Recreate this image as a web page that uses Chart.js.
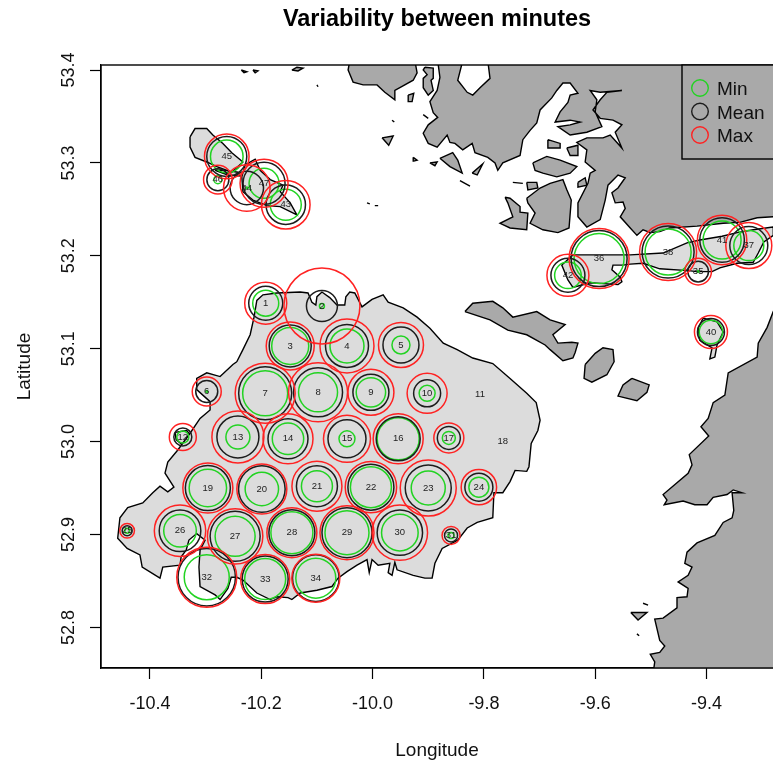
<!DOCTYPE html>
<html lang="en">
<head>
<meta charset="UTF-8">
<title>Variability between minutes</title>
<script src="https://cdn.jsdelivr.net/npm/chart.js"></script>
<style>
  html, body { margin: 0; padding: 0; background: #fff; overflow: hidden; }
  canvas { display: block; }
</style>
</head>
<body>
<canvas id="chart" width="773" height="767"></canvas>
<script>
// stations
const stationIds = [1,2,3,4,5,6,7,8,9,10,11,12,13,14,15,16,17,18,19,20,21,22,23,24,25,26,27,28,29,30,31,32,33,34,35,36,37,38,40,41,42,43,44,45,46,47];
const stationLon = [-10.192,-10.091,-10.148,-10.046,-9.949,-10.298,-10.193,-10.098,-10.003,-9.902,-9.807,-10.341,-10.242,-10.152,-10.046,-9.954,-9.863,-9.766,-10.296,-10.199,-10.100,-10.003,-9.900,-9.809,-10.441,-10.346,-10.247,-10.145,-10.046,-9.951,-9.859,-10.298,-10.193,-10.102,-9.415,-9.593,-9.324,-9.469,-9.392,-9.372,-9.649,-10.156,-10.226,-10.262,-10.278,-10.195];
const stationLat = [53.149,53.146,53.103,53.103,53.104,53.054,53.052,53.053,53.053,53.052,53.051,53.005,53.005,53.003,53.003,53.003,53.004,53.000,52.950,52.949,52.952,52.951,52.950,52.951,52.904,52.904,52.898,52.902,52.902,52.902,52.899,52.854,52.852,52.853,53.183,53.197,53.211,53.204,53.118,53.217,53.179,53.255,53.273,53.307,53.282,53.278];
const minValues  = [13,2.5,18.5,17,9,1,22.5,19.5,14.7,8,0,6,12,15.7,8,21,6.5,0,18.7,16.7,15.5,20.5,17,10,2.5,16.3,20,21,22,18.3,3,22.5,20.5,20,1,25,15,23,11.7,19,13.3,15.5,1,16.3,4,15];
const meanValues = [17,15.5,21,21.5,18,11,26.5,24.5,18,13.5,0,9,21,20,19,22,11.5,0,22.5,23.3,20.5,23,23,14,5,20.8,25,23,25,22.7,6.5,28.7,23,23.3,10.3,28,19,26,13.5,22.3,17,19.7,16.7,20,11,21];
const maxValues  = [21,38,24,27,22.5,14.5,30,29.5,23,20,0,13.5,26,25,23.5,25,15,0,25,25,25,25.7,28,17.7,7.3,25.7,27.7,25,27,27.7,9,30,24.5,24,13.3,30,23,28.5,16.5,24.7,21,24.3,23.3,22.3,14.3,24];

// axes
const xTickValues = [-10.4,-10.2,-10.0,-9.8,-9.6,-9.4];
const yTickValues = [52.8,52.9,53.0,53.1,53.2,53.3,53.4];
const legendLabels = ['Min','Mean','Max'];

// survey area land, [lon, lat]
const areaMain = [[-10.244,53.086],[-10.233,53.099],[-10.220,53.115],[-10.213,53.134],[-10.208,53.152],[-10.197,53.158],[-10.172,53.160],[-10.130,53.161],[-10.116,53.160],[-10.109,53.150],[-10.102,53.147],[-10.100,53.156],[-10.091,53.161],[-10.077,53.155],[-10.064,53.147],[-10.050,53.147],[-10.048,53.156],[-10.041,53.161],[-10.032,53.160],[-10.019,53.145],[-10.001,53.153],[-9.981,53.158],[-9.972,53.150],[-9.945,53.144],[-9.920,53.134],[-9.897,53.122],[-9.873,53.106],[-9.848,53.099],[-9.820,53.090],[-9.784,53.084],[-9.753,53.068],[-9.723,53.052],[-9.706,53.042],[-9.699,53.023],[-9.703,53.012],[-9.715,52.998],[-9.719,52.973],[-9.723,52.968],[-9.744,52.969],[-9.753,52.957],[-9.766,52.945],[-9.782,52.945],[-9.784,52.918],[-9.812,52.913],[-9.830,52.907],[-9.847,52.894],[-9.875,52.885],[-9.888,52.869],[-9.893,52.853],[-9.906,52.853],[-9.927,52.856],[-9.956,52.862],[-9.960,52.870],[-9.965,52.856],[-9.972,52.859],[-9.969,52.869],[-9.990,52.867],[-10.001,52.873],[-10.006,52.859],[-10.010,52.873],[-10.028,52.867],[-10.046,52.860],[-10.062,52.853],[-10.073,52.844],[-10.100,52.840],[-10.130,52.837],[-10.145,52.830],[-10.152,52.832],[-10.172,52.833],[-10.184,52.830],[-10.208,52.837],[-10.233,52.851],[-10.244,52.854],[-10.254,52.854],[-10.260,52.842],[-10.274,52.830],[-10.283,52.835],[-10.310,52.844],[-10.312,52.865],[-10.310,52.883],[-10.301,52.894],[-10.316,52.901],[-10.330,52.894],[-10.335,52.883],[-10.344,52.876],[-10.346,52.867],[-10.377,52.865],[-10.382,52.853],[-10.414,52.865],[-10.418,52.878],[-10.441,52.885],[-10.458,52.896],[-10.454,52.918],[-10.440,52.929],[-10.413,52.934],[-10.395,52.945],[-10.382,52.952],[-10.368,52.946],[-10.357,52.951],[-10.373,52.966],[-10.368,52.978],[-10.350,52.991],[-10.328,53.009],[-10.310,53.025],[-10.292,53.034],[-10.292,53.043],[-10.316,53.056],[-10.316,53.068],[-10.298,53.074],[-10.274,53.070],[-10.251,53.083]];
const areaNorthIsle = [[-10.328,53.328],[-10.319,53.337],[-10.298,53.337],[-10.287,53.330],[-10.269,53.321],[-10.253,53.311],[-10.233,53.301],[-10.253,53.290],[-10.280,53.296],[-10.298,53.301],[-10.319,53.306],[-10.328,53.317]];
const areaMiddleIsle = [[-10.229,53.298],[-10.211,53.304],[-10.202,53.292],[-10.184,53.282],[-10.161,53.276],[-10.166,53.269],[-10.148,53.257],[-10.136,53.244],[-10.166,53.253],[-10.190,53.254],[-10.215,53.260],[-10.233,53.269],[-10.235,53.285]];
const areaSliver = [[-10.283,53.292],[-10.260,53.287],[-10.238,53.286],[-10.242,53.290],[-10.263,53.292]];
const areaStrip = [[-9.640,53.201],[-9.537,53.201],[-9.478,53.203],[-9.435,53.214],[-9.412,53.217],[-9.372,53.221],[-9.345,53.225],[-9.316,53.228],[-9.280,53.231],[-9.280,53.222],[-9.297,53.215],[-9.307,53.203],[-9.316,53.193],[-9.345,53.192],[-9.376,53.187],[-9.390,53.183],[-9.417,53.183],[-9.433,53.184],[-9.484,53.186],[-9.514,53.192],[-9.537,53.191],[-9.550,53.190],[-9.568,53.190],[-9.570,53.185],[-9.555,53.177],[-9.552,53.172],[-9.559,53.169],[-9.609,53.171],[-9.640,53.166],[-9.649,53.174],[-9.660,53.190]];
const areaIsle40 = [[-9.406,53.133],[-9.381,53.129],[-9.370,53.118],[-9.381,53.104],[-9.385,53.091],[-9.394,53.089],[-9.390,53.101],[-9.412,53.109],[-9.415,53.122]];
const areaIsle12 = [[-10.355,53.010],[-10.334,53.012],[-10.325,53.005],[-10.341,52.996],[-10.353,53.002]];

// surrounding land, [lon, lat]
const landNorth = [[-9.793,53.41],[-9.789,53.391],[-9.807,53.381],[-9.820,53.373],[-9.830,53.376],[-9.847,53.389],[-9.838,53.41],[-9.883,53.41],[-9.879,53.392],[-9.884,53.378],[-9.897,53.366],[-9.891,53.354],[-9.883,53.349],[-9.900,53.341],[-9.909,53.332],[-9.900,53.321],[-9.884,53.317],[-9.866,53.330],[-9.861,53.322],[-9.852,53.321],[-9.838,53.314],[-9.821,53.321],[-9.816,53.311],[-9.793,53.306],[-9.780,53.300],[-9.775,53.292],[-9.766,53.300],[-9.735,53.308],[-9.730,53.325],[-9.717,53.335],[-9.705,53.343],[-9.699,53.357],[-9.678,53.370],[-9.669,53.378],[-9.658,53.386],[-9.645,53.386],[-9.631,53.375],[-9.645,53.373],[-9.649,53.365],[-9.663,53.355],[-9.672,53.344],[-9.645,53.346],[-9.627,53.344],[-9.645,53.341],[-9.667,53.339],[-9.645,53.330],[-9.615,53.333],[-9.588,53.339],[-9.600,53.355],[-9.597,53.368],[-9.609,53.378],[-9.591,53.376],[-9.552,53.378],[-9.579,53.376],[-9.591,53.368],[-9.604,53.357],[-9.591,53.348],[-9.568,53.346],[-9.552,53.341],[-9.564,53.333],[-9.552,53.316],[-9.573,53.330],[-9.586,53.327],[-9.615,53.327],[-9.633,53.322],[-9.615,53.314],[-9.618,53.301],[-9.600,53.292],[-9.609,53.289],[-9.613,53.278],[-9.631,53.257],[-9.631,53.242],[-9.615,53.231],[-9.591,53.239],[-9.582,53.260],[-9.577,53.276],[-9.559,53.287],[-9.546,53.284],[-9.559,53.273],[-9.570,53.268],[-9.564,53.257],[-9.550,53.258],[-9.546,53.251],[-9.555,53.242],[-9.537,53.230],[-9.525,53.222],[-9.514,53.228],[-9.501,53.225],[-9.484,53.226],[-9.466,53.230],[-9.417,53.232],[-9.370,53.235],[-9.340,53.236],[-9.309,53.241],[-9.280,53.242],[-9.25,53.242],[-9.25,53.41]];
const landEast = [[-9.25,53.140],[-9.280,53.140],[-9.291,53.123],[-9.307,53.106],[-9.309,53.091],[-9.361,53.074],[-9.367,53.050],[-9.388,53.042],[-9.397,53.025],[-9.410,53.016],[-9.396,53.006],[-9.431,52.986],[-9.426,52.975],[-9.433,52.966],[-9.478,52.943],[-9.471,52.937],[-9.476,52.932],[-9.442,52.936],[-9.421,52.932],[-9.399,52.932],[-9.388,52.940],[-9.363,52.943],[-9.352,52.948],[-9.336,52.945],[-9.354,52.945],[-9.351,52.926],[-9.354,52.918],[-9.370,52.913],[-9.385,52.899],[-9.417,52.891],[-9.435,52.881],[-9.439,52.869],[-9.426,52.865],[-9.433,52.856],[-9.451,52.849],[-9.433,52.842],[-9.435,52.833],[-9.453,52.832],[-9.453,52.821],[-9.478,52.810],[-9.493,52.809],[-9.484,52.786],[-9.475,52.780],[-9.484,52.773],[-9.501,52.771],[-9.493,52.763],[-9.496,52.75],[-9.25,52.75]];
const landCapeTop = [[-10.041,53.41],[-10.044,53.400],[-10.035,53.387],[-10.017,53.384],[-9.992,53.384],[-9.978,53.376],[-9.960,53.368],[-9.960,53.378],[-9.951,53.381],[-9.927,53.389],[-9.920,53.397],[-9.924,53.41]];
const landBlob = [[-9.906,53.403],[-9.891,53.402],[-9.891,53.391],[-9.895,53.389],[-9.891,53.378],[-9.900,53.373],[-9.909,53.381],[-9.909,53.391],[-9.902,53.395],[-9.909,53.400]];
const landSouthIsle = [[-9.834,53.140],[-9.820,53.149],[-9.784,53.151],[-9.766,53.144],[-9.748,53.134],[-9.705,53.140],[-9.681,53.131],[-9.654,53.126],[-9.676,53.115],[-9.667,53.106],[-9.642,53.107],[-9.631,53.106],[-9.636,53.096],[-9.640,53.090],[-9.658,53.087],[-9.681,53.099],[-9.690,53.104],[-9.723,53.115],[-9.757,53.120],[-9.789,53.131]];
const landRockK = [[-9.618,53.083],[-9.600,53.095],[-9.586,53.101],[-9.568,53.099],[-9.566,53.086],[-9.579,53.072],[-9.606,53.064],[-9.620,53.068]];
const landRockL = [[-9.534,53.068],[-9.503,53.061],[-9.507,53.053],[-9.525,53.044],[-9.559,53.049],[-9.550,53.061]];
const landBayA = [[-9.712,53.300],[-9.687,53.307],[-9.663,53.303],[-9.633,53.296],[-9.645,53.289],[-9.669,53.285],[-9.694,53.289],[-9.708,53.292]];
const landBayB = [[-9.723,53.262],[-9.699,53.273],[-9.681,53.278],[-9.658,53.282],[-9.651,53.271],[-9.643,53.260],[-9.647,53.230],[-9.667,53.225],[-9.694,53.228],[-9.717,53.235],[-9.708,53.246],[-9.721,53.257]];
const landBayC = [[-9.762,53.263],[-9.753,53.262],[-9.735,53.253],[-9.735,53.247],[-9.721,53.246],[-9.723,53.228],[-9.753,53.230],[-9.771,53.235],[-9.748,53.242],[-9.757,53.257]];
const landBayD = [[-9.723,53.279],[-9.705,53.279],[-9.703,53.273],[-9.721,53.271]];
const landBayE = [[-9.685,53.325],[-9.663,53.321],[-9.663,53.316],[-9.685,53.316]];
const landBayF = [[-9.651,53.316],[-9.631,53.319],[-9.631,53.308],[-9.645,53.308]];
const landBayG = [[-9.631,53.279],[-9.618,53.284],[-9.615,53.276],[-9.631,53.274]];
const landBayH = [[-9.821,53.289],[-9.802,53.299],[-9.812,53.287]];
const landBayI = [[-9.879,53.305],[-9.856,53.311],[-9.847,53.303],[-9.839,53.289],[-9.861,53.296]];
const landTri = [[-9.983,53.327],[-9.963,53.329],[-9.971,53.319]];
const landSmallA = [[-9.936,53.373],[-9.926,53.375],[-9.929,53.366],[-9.936,53.366]];
const landSmallB = [[-9.927,53.306],[-9.920,53.303],[-9.926,53.302]];
const landSmallC = [[-9.897,53.300],[-9.884,53.301],[-9.888,53.297]];
const landSmallD = [[-10.236,53.400],[-10.226,53.398],[-10.231,53.397]];
const landSmallE = [[-10.215,53.400],[-10.206,53.399],[-10.211,53.397]];
const landSmallF = [[-10.145,53.400],[-10.136,53.403],[-10.125,53.402],[-10.134,53.399]];
const landSmallG = [[-9.536,52.816],[-9.507,52.816],[-9.523,52.808]];
const landSmallH = [[-9.514,52.826],[-9.505,52.824]];
const landSmallI = [[-9.525,52.793],[-9.521,52.791]];
const landSmallJ = [[-10.010,53.257],[-10.005,53.256]];
const landSmallK = [[-9.996,53.254],[-9.990,53.254]];
const landSmallL = [[-10.100,53.384],[-10.098,53.382]];
const landSmallM = [[-9.909,53.352],[-9.900,53.348]];
const landSmallN = [[-9.965,53.346],[-9.961,53.344]];
const landSmallO = [[-9.748,53.279],[-9.730,53.278]];
const landSmallP = [[-9.843,53.281],[-9.825,53.275]];

const lightLand = [areaMain, areaNorthIsle, areaMiddleIsle, areaSliver, areaStrip, areaIsle40, areaIsle12];
const darkLand = [landNorth, landEast, landCapeTop, landBlob, landSouthIsle, landRockK, landRockL, landBayA, landBayB, landBayC, landBayD, landBayE, landBayF, landBayG, landBayH, landBayI, landTri, landSmallA, landSmallB, landSmallC, landSmallD, landSmallE, landSmallF, landSmallG, landSmallH, landSmallI, landSmallJ, landSmallK, landSmallL, landSmallM, landSmallN, landSmallO, landSmallP];

const FONT = '"Liberation Sans", Arial, sans-serif';
const GREEN = '#22d322';
const BLACK = '#1c1c1c';
const RED = '#ff2222';
const DARK_GRAY = '#a9a9a9';

function landDataset(points, fillColor) {
  const closed = points.concat([points[0]]);
  return {
    type: 'scatter',
    data: closed.map(p => ({ x: p[0], y: p[1] })),
    showLine: true,
    fill: 'shape',
    backgroundColor: fillColor,
    borderColor: '#000',
    borderWidth: 1.4,
    pointRadius: 0,
    tension: 0,
    order: 10
  };
}

function ringDataset(values, color, order) {
  return {
    type: 'bubble',
    data: values.map((v, i) => ({ x: stationLon[i], y: stationLat[i], r: v })),
    backgroundColor: 'transparent',
    borderColor: color,
    borderWidth: 1.5,
    order: order
  };
}

const datasets = [
  ...darkLand.map(p => landDataset(p, DARK_GRAY)),
  ...lightLand.map(p => landDataset(p, '#dcdcdc')),
  ringDataset(minValues, GREEN, 3),
  ringDataset(meanValues, BLACK, 2),
  ringDataset(maxValues, RED, 1)
];

// frame, station numbers and the R style legend box
const overlay = {
  id: 'overlay',
  afterDatasetsDraw(chart) {
    const { ctx, scales: { x, y } } = chart;
    ctx.save();
    ctx.font = '9.5px ' + FONT;
    ctx.fillStyle = '#222';
    ctx.textAlign = 'center';
    ctx.textBaseline = 'middle';
    stationIds.forEach((id, i) => {
      ctx.fillText(String(id), x.getPixelForValue(stationLon[i]), y.getPixelForValue(stationLat[i]));
    });
    ctx.restore();
  },
  afterDraw(chart) {
    const { ctx, chartArea: a } = chart;
    ctx.save();
    ctx.strokeStyle = '#000';
    ctx.lineWidth = 1.4;
    ctx.strokeRect(a.left, a.top, a.right - a.left + 10, a.bottom - a.top);

    ctx.fillStyle = DARK_GRAY;
    ctx.fillRect(682, a.top, 100, 94);
    ctx.strokeRect(682, a.top, 100, 94);
    const colors = [GREEN, BLACK, RED];
    ctx.font = '19px ' + FONT;
    ctx.textAlign = 'left';
    ctx.textBaseline = 'middle';
    legendLabels.forEach((label, i) => {
      const cy = 88 + i * 23.5;
      ctx.beginPath();
      ctx.arc(700, cy, 8.3, 0, Math.PI * 2);
      ctx.strokeStyle = colors[i];
      ctx.stroke();
      ctx.fillStyle = '#111';
      ctx.fillText(label, 717, cy + 2);
    });
    ctx.restore();
  }
};

new Chart(document.getElementById('chart'), {
  type: 'scatter',
  data: { datasets: datasets },
  plugins: [overlay],
  options: {
    responsive: false,
    animation: false,
    devicePixelRatio: 1,
    layout: { padding: 0, autoPadding: false },
    plugins: {
      legend: { display: false },
      tooltip: { enabled: false },
      title: {
        display: true,
        text: 'Variability between minutes',
        color: '#000',
        font: { family: FONT, size: 23.5, weight: 'bold' },
        padding: { top: 5, bottom: 31.8 },
        fullSize: false
      }
    },
    scales: {
      x: {
        type: 'linear',
        min: -10.488,
        max: -9.2805,
        afterFit(scale) { scale.height = 99; scale.paddingLeft = 0; scale.paddingRight = 0; },
        afterBuildTicks(scale) { scale.ticks = xTickValues.map(v => ({ value: v })); },
        grid: { drawOnChartArea: false, tickLength: 11, tickColor: '#000', tickWidth: 1.2 },
        border: { color: '#000', width: 1.2 },
        ticks: {
          color: '#111',
          padding: 14,
          maxRotation: 0,
          autoSkip: false,
          font: { family: FONT, size: 18 },
          callback: v => v.toFixed(1)
        },
        title: {
          display: true,
          text: 'Longitude',
          color: '#111',
          font: { family: FONT, size: 19 },
          padding: { top: 20, bottom: 5 }
        }
      },
      y: {
        type: 'linear',
        min: 52.7563,
        max: 53.4054,
        afterFit(scale) { scale.width = 101; scale.paddingTop = 0; scale.paddingBottom = 0; },
        afterBuildTicks(scale) { scale.ticks = yTickValues.map(v => ({ value: v })); },
        grid: { drawOnChartArea: false, tickLength: 11, tickColor: '#000', tickWidth: 1.2 },
        border: { color: '#000', width: 1.2 },
        ticks: {
          color: '#111',
          minRotation: 90,
          maxRotation: 90,
          crossAlign: 'center',
          padding: 3,
          autoSkip: false,
          font: { family: FONT, size: 18 },
          callback: v => v.toFixed(1)
        },
        title: {
          display: true,
          text: 'Latitude',
          color: '#111',
          font: { family: FONT, size: 19 },
          padding: { top: 13, bottom: 0 }
        }
      }
    }
  }
});
</script>
</body>
</html>
